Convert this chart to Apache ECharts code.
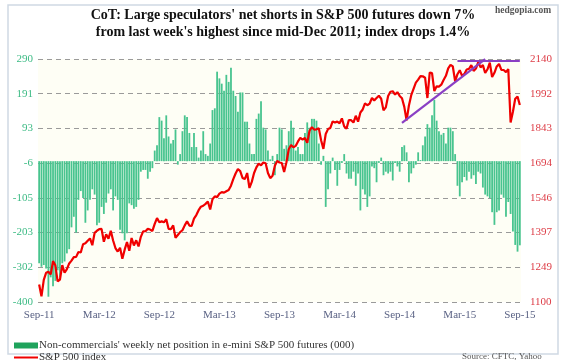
<!DOCTYPE html>
<html>
<head>
<meta charset="utf-8">
<script src="https://cdn.jsdelivr.net/npm/echarts@6/dist/echarts.min.js"></script>
<style>
  html, body { margin: 0; padding: 0; background: #ffffff; }
  #chart { width: 565px; height: 360px; }
</style>
</head>
<body>
<div id="chart"></div>
<script>
// Weekly CoT report dates, first report 2011-09-27, 209 weeks
const firstWeek = '2011-09-27';
const weekCount = 209;

// Non-commercials' net position in e-mini S&P 500 futures (000)
const netPosition = [
  -290,-300,-295,-305,-385,-330,-355,-340,-310,-330,
  -290,-285,-262,-250,-188,-158,-203,-110,-85,-105,
  -175,-140,-110,-80,-95,-182,-175,-130,-150,-118,
  -92,-80,-140,-100,-110,-195,-205,-225,-205,-120,
  -125,-135,-130,-110,-30,-25,-25,-50,-30,-20,
  30,45,125,115,65,130,70,50,60,90,
  -10,20,85,130,125,80,40,80,40,10,
  30,85,20,15,50,145,150,254,235,220,
  200,245,225,265,200,185,140,195,195,112,
  112,50,20,20,120,135,170,95,90,30,
  5,15,-40,20,95,90,35,45,85,115,
  95,30,40,20,20,80,110,95,120,120,
  115,50,-10,15,-130,-80,-35,10,-25,-70,
  -25,-5,20,-35,-50,-50,-30,-70,-35,-140,
  -80,-95,-130,-100,-15,-20,-60,-5,10,-40,
  -30,-35,-30,-55,-5,-15,-30,40,45,25,
  -60,-35,-20,-10,25,3,45,70,105,95,
  130,174,115,85,75,80,50,95,95,85,
  20,-70,-100,-60,-45,-55,-30,-50,-40,-65,
  -30,-35,-75,-95,-100,-105,-145,-181,-145,-140,
  -95,-104,-158,-116,-150,-200,-238,-257,-239
];

// S&P 500 index (weekly)
const spx = [
  1175,1124,1195,1225,1229,1218,1275,1257,1188,1196,1258,1225,1241,1265,
  1277,1292,1293,1314,1312,1347,1351,1362,1372,1343,1396,1405,1412,1413,
  1358,1390,1371,1405,1363,1331,1316,1332,1285,1324,1357,1319,1374,1342,
  1364,1338,1379,1402,1403,1413,1410,1404,1434,1459,1441,1445,1441,1454,
  1413,1412,1428,1375,1387,1399,1407,1428,1446,1427,
  1426,1457,1472,1493,1508,1512,1520,1530,1496,1540,1552,1549,1564,1570,
  1568,1574,1579,1598,1626,1650,1669,1660,1631,1626,1652,1588,1614,1652,
  1676,1692,1685,1697,1694,1652,1630,1640,1683,1704,1697,1695,1656,1698,
  1754,1772,1762,1768,1787,1802,1795,1802,1781,1833,1848,
  1838,1839,1844,1792,1755,1819,1840,1845,1873,1868,1872,1865,1886,1851,
  1842,1879,1878,1868,1897,1872,1911,1924,1950,1942,1949,1973,1963,1973,
  1983,1970,1920,1933,1982,2000,2002,1988,1998,1982,1972,1935,1877,1941,
  1985,2012,2039,2052,2067,2066,2060,1973,2082,2080,
  2003,2023,2022,2030,2050,2068,2100,2115,2108,2044,2075,2092,2068,2076,
  2095,2098,2114,2089,2099,2127,2104,2114,2080,2096,2124,2063,2081,2108,
  2119,2093,2093,2084,2097,1868,1914,1970,1979,1943
];

// Tick labels
const leftTicks = ['-400','-302','-203','-105','-6','93','191','290'];
const rightTicks = ['1100','1249','1397','1546','1694','1843','1992','2140'];
const monthNames = ['Jan','Feb','Mar','Apr','May','Jun','Jul','Aug','Sep','Oct','Nov','Dec'];

// Purple annotation lines on the index: [week index, index level]
const trendFrom = [157, 1867];
const trendTo = [193, 2139];
const topFrom = [181, 2134];
const topTo = [208, 2134];

const weeks = [];
const t0 = Date.parse(firstWeek + 'T00:00:00Z');
for (let i = 0; i < weekCount; i++) {
  weeks.push(new Date(t0 + i * 7 * 86400000).toISOString().slice(0, 10));
}

const leftMin = -400, leftMax = 290, leftInt = (leftMax - leftMin) / 7;
const rightMin = 1100, rightMax = 2140, rightInt = (rightMax - rightMin) / 7;
const serif = '"Liberation Serif", "DejaVu Serif", serif';
const barName = "Non-commercials' weekly net position in e-mini S&P 500 futures (000)";
const lineName = 'S&P 500 index';

const chart = echarts.init(document.getElementById('chart'), null, { renderer: 'canvas' });
chart.setOption({
  animation: false,
  backgroundColor: '#ffffff',
  graphic: [
    { type: 'rect', shape: { x: 8, y: 5, width: 550, height: 349 }, style: { fill: 'none', stroke: '#cfd9e4', lineWidth: 1.5 }, silent: true, z: -1 },
    { type: 'text', x: 283, y: 8, style: { text: "CoT: Large speculators' net shorts in S&P 500 futures down 7%", font: 'bold 14px ' + serif, fill: '#111', textAlign: 'center' } },
    { type: 'text', x: 283, y: 25, style: { text: "from last week's highest since mid-Dec 2011; index drops 1.4%", font: 'bold 14px ' + serif, fill: '#111', textAlign: 'center' } },
    { type: 'text', x: 495, y: 6, style: { text: 'hedgopia.com', font: 'bold 9.5px ' + serif, fill: '#555' } },
    { type: 'text', x: 462, y: 352, style: { text: 'Source: CFTC, Yahoo', font: '9px ' + serif, fill: '#555' } }
  ],
  legend: [
    {
      left: 14, top: 340, itemWidth: 24, itemHeight: 6, padding: 0,
      textStyle: { fontFamily: serif, fontSize: 11, color: '#333', padding: [0, 0, 0, -4] },
      data: [{ name: barName, icon: 'rect', itemStyle: { color: '#1fa35c' } }]
    },
    {
      left: 14, top: 352, itemWidth: 24, itemHeight: 2, padding: 0,
      textStyle: { fontFamily: serif, fontSize: 11, color: '#333', padding: [0, 0, 0, -4] },
      data: [{ name: lineName, icon: 'rect', itemStyle: { color: '#f00000' } }]
    }
  ],
  grid: {
    left: 38, right: 44, top: 59, bottom: 58,
    show: true, backgroundColor: '#fefef5', borderWidth: 0
  },
  xAxis: {
    type: 'category',
    data: weeks,
    boundaryGap: true,
    axisLine: { show: false },
    axisTick: { show: false },
    axisLabel: {
      interval: function (idx) { return idx % 26 === 0; },
      formatter: function (v) {
        const m = parseInt(v.slice(5, 7), 10) - 1;
        return monthNames[m] + '-' + v.slice(2, 4);
      },
      fontFamily: serif, fontSize: 11, color: '#5b6385', margin: 8
    }
  },
  yAxis: [
    {
      type: 'value', min: leftMin, max: leftMax, interval: leftInt,
      axisLine: { show: false }, axisTick: { show: false },
      splitLine: { show: true, lineStyle: { color: '#9a9a9a', type: [5, 4], width: 1 } },
      axisLabel: {
        formatter: function (v) { return leftTicks[Math.round((v - leftMin) / leftInt)]; },
        fontFamily: serif, fontSize: 11, color: '#3dbb85', margin: 5
      }
    },
    {
      type: 'value', min: rightMin, max: rightMax, interval: rightInt,
      axisLine: { show: false }, axisTick: { show: false },
      splitLine: { show: false },
      axisLabel: {
        formatter: function (v) { return rightTicks[Math.round((v - rightMin) / rightInt)]; },
        fontFamily: serif, fontSize: 11, color: '#dd3c46', margin: 9
      }
    }
  ],
  series: [
    {
      name: barName,
      type: 'bar',
      data: netPosition,
      yAxisIndex: 0,
      barCategoryGap: '22%',
      itemStyle: { color: '#48c48f' },
      z: 2
    },
    {
      name: lineName,
      type: 'line',
      data: spx,
      yAxisIndex: 1,
      symbol: 'none',
      lineStyle: { color: '#f00000', width: 2.2 },
      itemStyle: { color: '#f00000' },
      z: 3,
      markLine: {
        silent: true,
        symbol: 'none',
        label: { show: false },
        lineStyle: { color: '#8a3fc4', width: 2.2, type: 'solid' },
        data: [
          [{ coord: [weeks[trendFrom[0]], trendFrom[1]] }, { coord: [weeks[trendTo[0]], trendTo[1]] }],
          [{ coord: [weeks[topFrom[0]], topFrom[1]] }, { coord: [weeks[topTo[0]], topTo[1]] }]
        ]
      }
    }
  ]
});
</script>
</body>
</html>
